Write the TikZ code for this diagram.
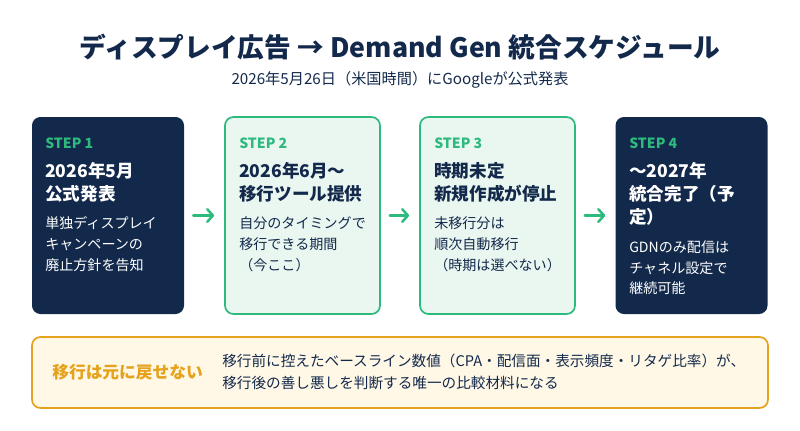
\documentclass[tikz,border=0pt]{standalone}
\usepackage{fontspec}
\setmainfont{Noto Sans CJK JP}
\usetikzlibrary{arrows.meta}
\definecolor{navy}{HTML}{13294B}
\definecolor{mint}{HTML}{2DBA7D}
\definecolor{mintbg}{HTML}{EAF6F0}
\definecolor{amber}{HTML}{E5A21C}
\definecolor{amberbg}{HTML}{FFF8E7}
\tikzset{
  darkbox/.style={draw=none, fill=navy, rounded corners=6pt, minimum width=152*0.025cm, minimum height=197*0.025cm, inner sep=0pt},
  lightbox/.style={draw=mint, line width=1.2pt, fill=mintbg, rounded corners=6pt, minimum width=155*0.025cm, minimum height=197*0.025cm, inner sep=0pt},
  steplbl/.style={anchor=west, inner sep=0pt, text=mint, font=\fontsize{10}{12}\selectfont\bfseries},
  headtxt/.style={anchor=north west, inner sep=0pt, align=left, font=\fontsize{12.5}{16.3}\selectfont\bfseries},
  bodytxt/.style={anchor=north west, inner sep=0pt, align=left, font=\fontsize{10}{14.9}\selectfont},
  nextarr/.style={-{Straight Barb[length=4pt,width=9pt,line cap=round,line join=round]}, draw=mint, line width=1.8pt, line cap=round, shorten <=9*0.025cm, shorten >=10*0.025cm}
}
\begin{document}
\begin{tikzpicture}[x=0.025cm, y=-0.025cm]
    \useasboundingbox (0,0) rectangle (800,430);
    % title
    \node[text=navy, font=\fontsize{19}{23}\selectfont\bfseries] (title) at (400,47) {ディスプレイ広告 → Demand Gen 統合スケジュール};
    \node[text=navy, font=\fontsize{10.8}{13}\selectfont] (sub) at (400,80) {2026年5月26日（米国時間）にGoogleが公式発表};

    % the four steps
    \node[darkbox]  (s1) at (108,215.5) {};
    \node[lightbox] (s2) at (302.5,215.5) {};
    \node[lightbox] (s3) at (497.5,215.5) {};
    \node[darkbox]  (s4) at (691.5,215.5) {};

    \node[steplbl] (l1) at (45,143) {STEP 1};
    \node[headtxt, text=white] (h1) at (45,162) {2026年5月\\公式発表};
    \node[bodytxt, text=white] (b1) at (45,216) {単独ディスプレイ\\キャンペーンの\\廃止方針を告知};

    \node[steplbl] (l2) at (239,143) {STEP 2};
    \node[headtxt, text=navy] (h2) at (239,162) {2026年6月〜\\移行ツール提供};
    \node[bodytxt, text=navy] (b2) at (239,216) {自分のタイミングで\\移行できる期間\\（今ここ）};

    \node[steplbl] (l3) at (434,143) {STEP 3};
    \node[headtxt, text=navy] (h3) at (434,162) {時期未定\\新規作成が停止};
    \node[bodytxt, text=navy] (b3) at (434,216) {未移行分は\\順次自動移行\\（時期は選べない）};

    \node[steplbl] (l4) at (629,143) {STEP 4};
    \node[headtxt, text=white] (h4) at (629,162) {〜2027年\\統合完了（予\\定）};
    \node[bodytxt, text=white] (b4) at (629,240) {GDNのみ配信は\\チャネル設定で\\継続可能};

    \draw[nextarr] (s1) -- (s2);
    \draw[nextarr] (s2) -- (s3);
    \draw[nextarr] (s3) -- (s4);

    % note at the bottom
    \node[draw=amber, line width=1.2pt, fill=amberbg, rounded corners=6pt, minimum width=736*0.025cm, minimum height=71*0.025cm] (note) at (400,372.5) {};
    \node[anchor=west, inner sep=0pt, text=amber, font=\fontsize{11.9}{14}\selectfont\bfseries] (warn) at (52,372) {移行は元に戻せない};
    \node[anchor=west, inner sep=0pt, align=left, text=navy, font=\fontsize{10.4}{15.6}\selectfont] (why) at (222,372) {移行前に控えたベースライン数値（CPA・配信面・表示頻度・リタゲ比率）が、\\移行後の善し悪しを判断する唯一の比較材料になる};
\end{tikzpicture}
\end{document}
